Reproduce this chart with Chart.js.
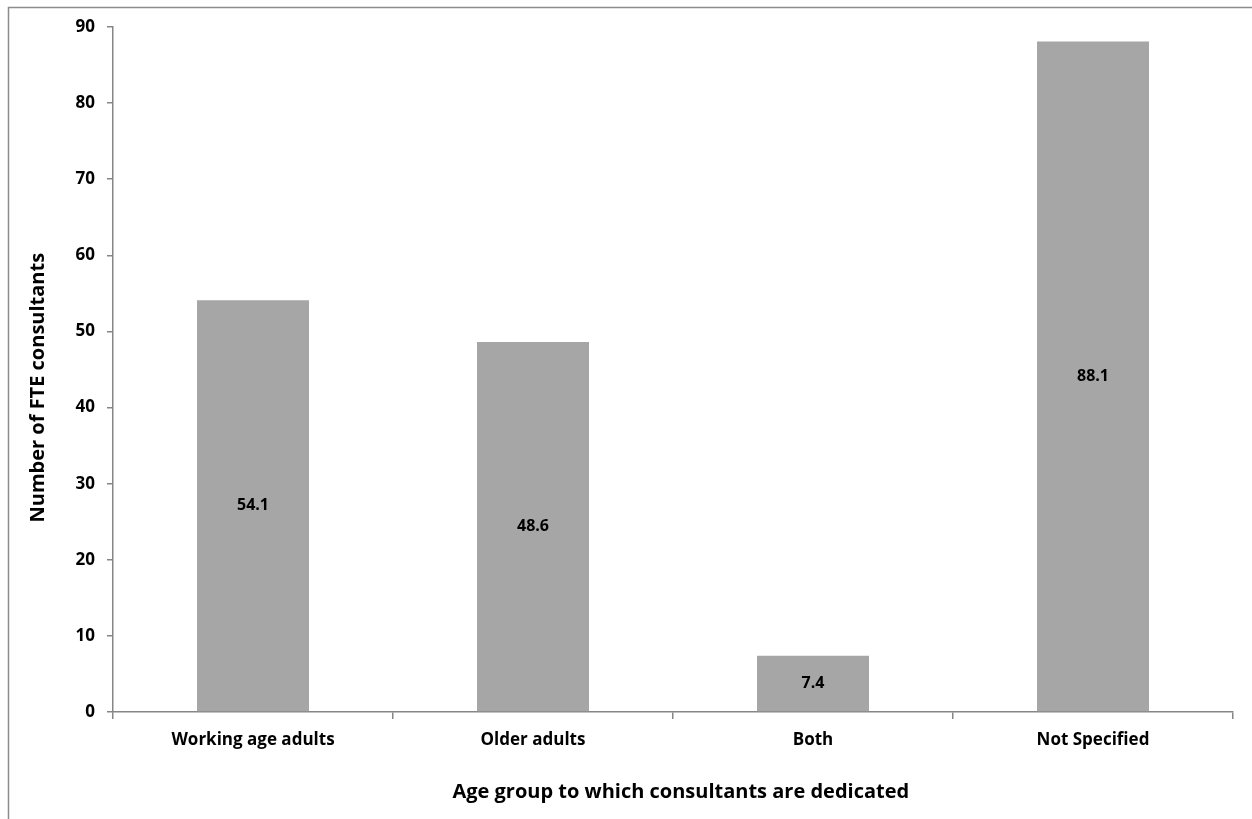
<!DOCTYPE html>
<html>
<head>
<meta charset="utf-8">
<script src="https://cdn.jsdelivr.net/npm/chart.js@4/dist/chart.umd.min.js"></script>
<style>
  html, body { margin: 0; padding: 0; background: #fff; }
  #wrap { width: 1252px; height: 819px; position: relative; }
</style>
</head>
<body>
<div id="wrap"><canvas id="fte-chart"></canvas></div>
<script>
// Chart data
const categories = ['Working age adults', 'Older adults', 'Both', 'Not Specified'];
const fteValues = [54.1, 48.6, 7.4, 88.1];
const yTicks = [0, 10, 20, 30, 40, 50, 60, 70, 80, 90];

const FONT = '"Open Sans", sans-serif';
const AXIS_GREY = '#868686';
const NBSP = '\u00A0';

// Outer frame like the exported chart border
const framePlugin = {
  id: 'frame',
  beforeDraw(chart) {
    const c = chart.ctx;
    c.save();
    c.fillStyle = '#fff';
    c.fillRect(0, 0, chart.width, chart.height);
    c.strokeStyle = '#8c8c8c';
    c.lineWidth = 1.5;
    c.strokeRect(8.5, 7.5, chart.width + 20, chart.height + 20);
    c.restore();
  }
};

// Value labels centred inside each bar
const barLabels = {
  id: 'barLabels',
  afterDatasetsDraw(chart) {
    const c = chart.ctx;
    const meta = chart.getDatasetMeta(0);
    c.save();
    c.font = 'bold 16px ' + FONT;
    c.fillStyle = '#000';
    c.textAlign = 'center';
    c.textBaseline = 'middle';
    meta.data.forEach((bar, i) => {
      const mid = (bar.y + bar.base) / 2;
      c.fillText(fteValues[i].toFixed(1), bar.x, mid);
    });
    c.restore();
  }
};

new Chart(document.getElementById('fte-chart'), {
  type: 'bar',
  data: {
    labels: categories,
    datasets: [{
      label: 'FTE consultants',
      data: fteValues,
      backgroundColor: '#a6a6a6',
      borderWidth: 0,
      categoryPercentage: 1,
      barPercentage: 0.4
    }]
  },
  options: {
    responsive: true, maintainAspectRatio: false, animation: false,
    layout: { padding: { top: 27, right: 19, left: 0, bottom: 0 } },
    plugins: { legend: { display: false }, tooltip: { enabled: false } },
    scales: {
      x: {
        afterFit: s => { s.height = 107; },
        border: { display: true, color: AXIS_GREY, width: 1.5 },
        grid: { offset: true, drawOnChartArea: false, drawTicks: true, tickLength: 7, color: AXIS_GREY, lineWidth: 1.5 },
        ticks: { color: '#000', padding: 11, font: { family: FONT, size: 17, weight: 'bold' } },
        title: {
          display: true,
          // leading spaces nudge the title right, as in the original
          text: NBSP.repeat(3) + 'Age group to which consultants are dedicated',
          color: '#000',
          font: { family: FONT, size: 20, weight: 'bold' }, padding: { top: 0, bottom: 15 }
        }
      },
      y: {
        min: 0, max: 90,
        afterFit: s => { s.width = 113; },
        afterBuildTicks: s => { s.ticks = yTicks.map(v => ({ value: v })); },
        border: { display: true, color: AXIS_GREY, width: 1.5 },
        grid: { drawOnChartArea: false, drawTicks: true, tickLength: 6, color: AXIS_GREY, lineWidth: 1.5 },
        ticks: { color: '#000', padding: 12, font: { family: FONT, size: 17, weight: 'bold' } },
        title: {
          display: true,
          // trailing spaces nudge the rotated title down to where the original sits
          text: 'Number of FTE consultants' + NBSP.repeat(7),
          color: '#000',
          font: { family: FONT, size: 20, weight: 'bold' }, padding: { top: 26, bottom: 0 }
        }
      }
    }
  },
  plugins: [framePlugin, barLabels]
});
</script>
</body>
</html>
